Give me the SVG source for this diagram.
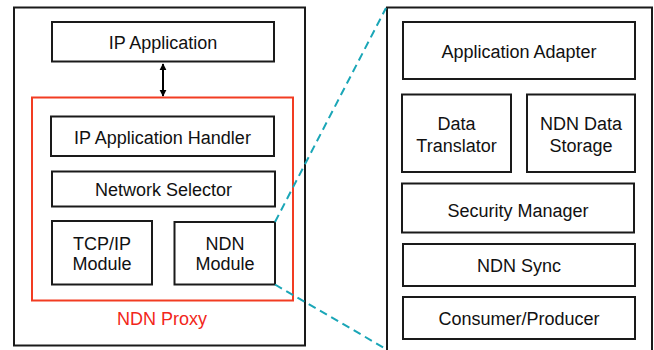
<svg xmlns="http://www.w3.org/2000/svg" width="654" height="350" viewBox="0 0 654 350">
  <defs>
    <style>
      .box { fill: #fff; stroke: #1a1a1a; stroke-width: 2; }
      .frame { fill: none; stroke: #1a1a1a; stroke-width: 2; }
      .proxy { fill: none; stroke: #f23c22; stroke-width: 2; }
      .lbl { font-family: "Liberation Sans", Arial, sans-serif; font-size: 18px; fill: #111; text-anchor: middle; }
      .red { fill: #f2261a; }
      .zoom { stroke: #1aa6b7; stroke-width: 2; stroke-dasharray: 8 5; fill: none; }
      .link { stroke: #000; stroke-width: 2; fill: none; }
    </style>
    <marker id="head" viewBox="0 0 10 10" refX="9" refY="5" markerWidth="3.5" markerHeight="4.5" orient="auto-start-reverse" markerUnits="strokeWidth">
      <path d="M0,0 L10,5 L0,10 z" fill="#000"/>
    </marker>
  </defs>
  <rect width="654" height="350" fill="#fff"/>

  <!-- left: host with the proxy -->
  <g id="host">
    <rect class="frame" x="14" y="7.5" width="291" height="338"/>
  </g>
  <g id="ndn-proxy">
    <rect class="proxy" x="32" y="97.5" width="261" height="203"/>
    <text class="lbl red" x="162" y="325">NDN Proxy</text>
  </g>
  <g id="ip-application">
    <rect class="box" x="52" y="22" width="222" height="39.5"/>
    <text class="lbl" x="163" y="49">IP Application</text>
  </g>
  <g id="ip-application-handler">
    <rect class="box" x="51" y="116.5" width="223" height="39.5"/>
    <text class="lbl" x="162.5" y="144">IP Application Handler</text>
  </g>
  <g id="network-selector">
    <rect class="box" x="52" y="171.5" width="223" height="35"/>
    <text class="lbl" x="163.5" y="196">Network Selector</text>
  </g>
  <g id="tcpip-module">
    <rect class="box" x="52" y="221" width="100" height="63.5"/>
    <text class="lbl" x="102" y="250">TCP/IP</text>
    <text class="lbl" x="102" y="270">Module</text>
  </g>
  <g id="ndn-module">
    <rect class="box" x="174.5" y="222" width="100.5" height="62.5"/>
    <text class="lbl" x="225" y="250">NDN</text>
    <text class="lbl" x="225" y="270">Module</text>
  </g>

  <!-- right: inside the NDN module -->
  <g id="ndn-module-detail">
    <rect class="frame" x="387" y="7.5" width="265" height="360"/>
  </g>
  <g id="application-adapter">
    <rect class="box" x="403" y="22" width="232" height="57"/>
    <text class="lbl" x="519" y="58">Application Adapter</text>
  </g>
  <g id="data-translator">
    <rect class="box" x="402" y="94.5" width="109" height="77.5"/>
    <text class="lbl" x="456.5" y="130">Data</text>
    <text class="lbl" x="456.5" y="151.5">Translator</text>
  </g>
  <g id="ndn-data-storage">
    <rect class="box" x="527" y="94.5" width="108" height="77.5"/>
    <text class="lbl" x="581" y="130">NDN Data</text>
    <text class="lbl" x="581" y="151.5">Storage</text>
  </g>
  <g id="security-manager">
    <rect class="box" x="402" y="183.5" width="232" height="49"/>
    <text class="lbl" x="518" y="216.5">Security Manager</text>
  </g>
  <g id="ndn-sync">
    <rect class="box" x="403" y="244" width="232" height="42"/>
    <text class="lbl" x="519" y="272">NDN Sync</text>
  </g>
  <g id="consumer-producer">
    <rect class="box" x="403" y="297" width="232" height="42"/>
    <text class="lbl" x="519" y="325">Consumer/Producer</text>
  </g>

  <!-- connectors -->
  <g id="connectors">
    <line class="link" x1="163" y1="64" x2="163" y2="96" marker-start="url(#head)" marker-end="url(#head)"/>
    <line class="zoom" x1="275" y1="222" x2="386" y2="8"/>
    <line class="zoom" x1="275" y1="284.5" x2="386" y2="349"/>
  </g>
</svg>
